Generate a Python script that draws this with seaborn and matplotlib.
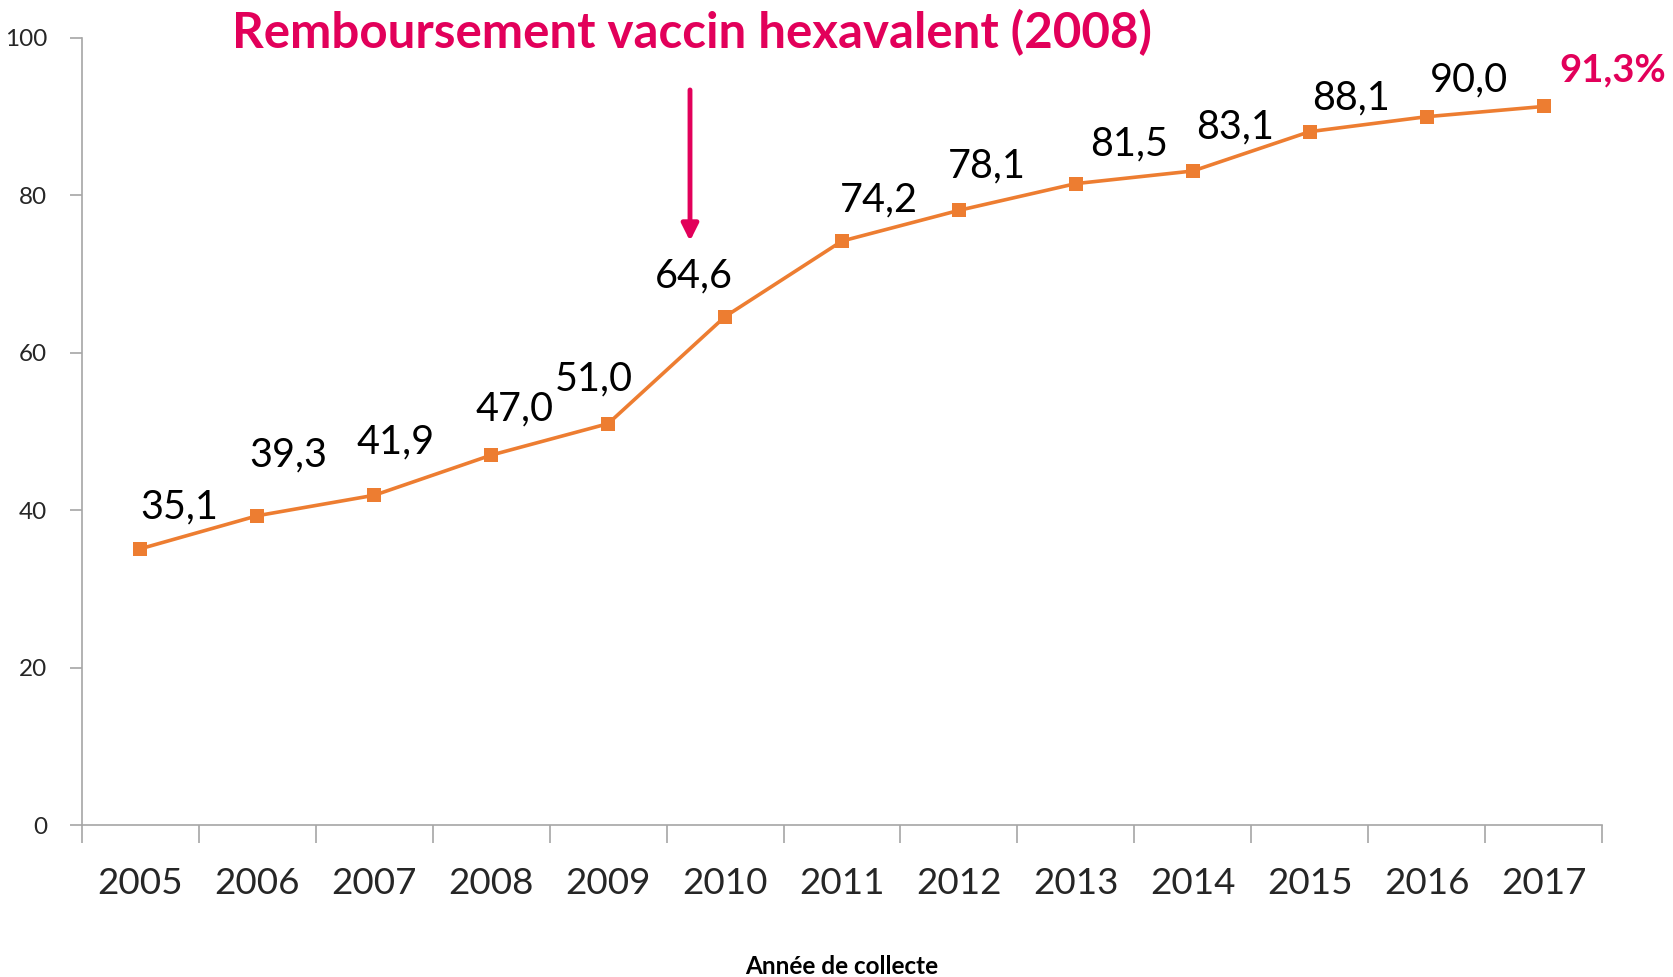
import matplotlib
matplotlib.use("Agg")
import matplotlib.pyplot as plt
import seaborn as sns
import pandas as pd
import numpy as np
from matplotlib.ticker import FixedLocator

years = ["2005", "2006", "2007", "2008", "2009", "2010", "2011", "2012", "2013", "2014", "2015", "2016", "2017"]
values = [35.1, 39.3, 41.9, 47.0, 51.0, 64.6, 74.2, 78.1, 81.5, 83.1, 88.1, 90.0, 91.3]
labels = ["35,1", "39,3", "41,9", "47,0", "51,0", "64,6", "74,2", "78,1", "81,5", "83,1", "88,1", "90,0", "91,3%"]
yticks = [0, 20, 40, 60, 80, 100]
title = "Remboursement vaccin hexavalent (2008)"
xlabel = "Année de collecte"

sns.set_style("white")
plt.rcParams['font.family'] = ['Lato', 'DejaVu Sans']

PINK = "#E2005A"
ORANGE = "#ED7D31"
GRAY = "#A6A6A6"

fig = plt.figure(figsize=(16.73, 9.77), dpi=100)
ax = fig.add_axes([82/1673, 1-825/977, (1602-82)/1673, (825-38)/977])

df = pd.DataFrame({"idx": np.arange(len(years)), "value": values})
sns.lineplot(data=df, x="idx", y="value", ax=ax, color=ORANGE, lw=2.6,
             marker="s", markersize=10, markeredgewidth=0, markerfacecolor=ORANGE)

ax.set_xlim(-0.5, len(years) - 0.5)
ax.set_ylim(0, 100)
ax.set_yticks(yticks)
ax.set_yticklabels([str(t) for t in yticks], fontsize=17.5)
ax.set_xticks(np.arange(len(years)))
ax.set_xticklabels(years, fontsize=26.5)
ax.xaxis.set_minor_locator(FixedLocator(np.arange(len(years) + 1) - 0.5))
ax.tick_params(axis="x", which="major", length=0, pad=30, bottom=True)
ax.tick_params(axis="x", which="minor", length=13, width=1.2, color=GRAY, direction="out", bottom=True)
ax.tick_params(axis="y", which="major", length=9, width=1.2, color=GRAY, direction="out", pad=16, left=True)
for s in ["top", "right"]:
    ax.spines[s].set_visible(False)
for s in ["left", "bottom"]:
    ax.spines[s].set_color(GRAY)
    ax.spines[s].set_linewidth(1.2)
ax.set_xlabel("")
ax.set_ylabel("")

# data labels (offsets in pixels)
offsets = [(39, -42), (31, -61), (21, -53), (23, -46), (-14, -45), (-31, -41), (37, -41),
           (28, -44), (53, -40), (42, -44), (41, -34), (42, -37), (69, -36)]
for i, (lab, v) in enumerate(zip(labels, values)):
    dx, dy = offsets[i]
    last = i == len(values) - 1
    ax.annotate(lab, xy=(i, v), xytext=(dx, -dy), textcoords="offset pixels",
                ha="center", va="center", fontsize=27.5 if last else 28.5,
                fontweight="bold" if last else "normal",
                color=PINK if last else "black", annotation_clip=False)

# arrow
ax.annotate("", xy=(4.7, 74.2), xytext=(4.7, 93.4),
            arrowprops=dict(arrowstyle="-|>,head_length=1.0,head_width=0.5", color=PINK, lw=3.5,
                            shrinkA=0, shrinkB=0))

fig.text(692/1673, 1-33/977, title, ha="center", va="center", fontsize=35.5,
         fontweight="bold", color=PINK)
fig.text(842/1673, 1-967/977, xlabel, ha="center", va="center", fontsize=17.5,
         fontweight="bold", color="black")

fig.savefig("out.png", dpi=100)
